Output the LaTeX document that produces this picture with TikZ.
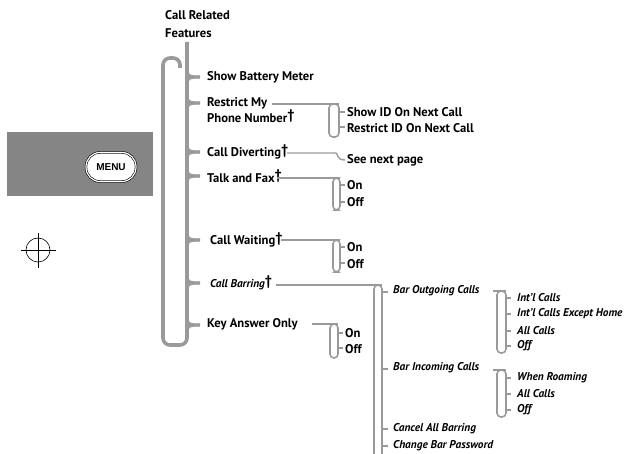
\documentclass[tikz,border=0pt]{standalone}
\usepackage{fontspec}
\setmainfont{PT Sans}
\newfontfamily\menufont{Liberation Sans}
\newcommand{\dg}{\raisebox{0.4ex}{\fontsize{14}{14}\selectfont\bfseries\upshape †}}
\begin{document}
\begin{tikzpicture}[x=1pt,y=-1pt,
  item/.style={anchor=west,inner sep=0pt,font=\fontsize{12.6}{18}\selectfont\bfseries,text=black},
  iitem/.style={anchor=west,inner sep=0pt,font=\fontsize{11.3}{16}\selectfont\bfseries\itshape,text=black},
  mainline/.style={draw=brk,line width=3.6pt,rounded corners=7pt},
  subline/.style={draw=brk,line width=1.6pt,rounded corners=4pt},
  hline/.style={draw=brk,line width=1.4pt,rounded corners=4pt},
  tick/.style={draw=brk,line width=1.1pt},
  tip/.style={draw=brk,line width=3pt}]
\definecolor{brk}{HTML}{9A9A9A}
\definecolor{panel}{HTML}{858585}
\useasboundingbox (0,0) rectangle (627,454);

% left panel
\fill[panel] (7,132) rectangle (153,196);
\node[draw=black,fill=white,line width=0.6pt,double=white,double distance=1.2pt,rounded corners=14pt,minimum width=50pt,minimum height=29pt,inner sep=0pt,font=\menufont\fontsize{10}{10}\selectfont\bfseries] (menu) at (111,167) {MENU};
\draw[line width=0.6pt] (38,250) circle[radius=12];
\draw[line width=0.7pt] (21,250) -- (56,250) (38,233) -- (38,268);

% title
\node[item,align=left] (title) at (165,24) {Call Related\\Features};

% main bracket
\draw[mainline] (180,68) -- (180,58) -- (163,58) -- (163,345) -- (187,345) -- (187,42);
\foreach \y in {77,103,152,176,240,283,325}{
  \draw[tip] (187,\y-6) .. controls (187,\y-1) and (190,\y) .. (200,\y);
  \draw[tip] (187,\y+6) .. controls (187,\y+1) and (190,\y) .. (200,\y);
}

% main items
\node[item] (sbm) at (207,77) {Show Battery Meter};
\node[item,align=left,font=\fontsize{12.6}{16}\selectfont\bfseries] (rmp) at (207,110) {Restrict My\\Phone Number\dg};
\node[item] (cd) at (207,152) {Call Diverting\dg};
\node[item] (tf) at (207,176) {Talk and Fax\dg};
\node[item] (cw) at (210,240) {Call Waiting\dg};
\node[iitem] (cb) at (210,283) {Call Barring\dg};
\node[item] (kao) at (207,324) {Key Answer Only};

% restrict my phone number
\draw[hline] (272,104) -- (339,104);
\draw[subline] (329,104) rectangle (339,137);
\foreach \y in {112,127}{\draw[tick] (339,\y) -- (345,\y);}
\node[item] (sid) at (347,112) {Show ID On Next Call};
\node[item] (rid) at (347,128) {Restrict ID On Next Call};

% call diverting
\draw[hline] (287,153) -- (332,153) .. controls (338,153) and (336,160) .. (345,160);
\node[item] (snp) at (347,160) {See next page};

% talk and fax
\draw[hline] (277,178) -- (340,178);
\draw[subline] (333,178) rectangle (340,210);
\foreach \y in {185,202}{\draw[tick] (340,\y) -- (345,\y);}
\node[item] (tfon) at (347,185) {On};
\node[item] (tfoff) at (347,202) {Off};

% call waiting
\draw[hline] (281,240) -- (340,240);
\draw[subline] (333,240) rectangle (340,272);
\foreach \y in {247,263}{\draw[tick] (340,\y) -- (345,\y);}
\node[item] (cwon) at (347,247) {On};
\node[item] (cwoff) at (347,264) {Off};

% key answer only
\draw[hline] (312,324) -- (338,324);
\draw[subline] (330,324) rectangle (338,358);
\foreach \y in {333,348}{\draw[tick] (338,\y) -- (343,\y);}
\node[item] (kon) at (345,333) {On};
\node[item] (koff) at (345,349) {Off};

% call barring
\draw[hline] (276,285) -- (382,285);
\draw[subline] (382,454) -- (382,285) -- (374,285) -- (374,454);
\foreach \y in {292,369,429,446}{\draw[tick] (382,\y) -- (388,\y);}
\node[iitem] (bog) at (393,291) {Bar Outgoing Calls};
\node[iitem] (bic) at (393,368) {Bar Incoming Calls};
\node[iitem] (cab) at (393,429) {Cancel All Barring};
\node[iitem] (cbp) at (393,446) {Change Bar Password};

% outgoing
\draw[hline] (493,291) -- (506,291);
\draw[subline] (497,291) rectangle (506,353);
\foreach \y in {298,314,331,346}{\draw[tick] (506,\y) -- (511,\y);}
\node[iitem] (o1) at (517,298) {Int'l Calls};
\node[iitem] (o2) at (517,314) {Int'l Calls Except Home};
\node[iitem] (o3) at (517,331) {All Calls};
\node[iitem] (o4) at (517,346) {Off};

% incoming
\draw[hline] (493,370) -- (506,370);
\draw[subline] (497,370) rectangle (506,417);
\foreach \y in {378,394,410}{\draw[tick] (506,\y) -- (511,\y);}
\node[iitem] (i1) at (517,378) {When Roaming};
\node[iitem] (i2) at (517,394) {All Calls};
\node[iitem] (i3) at (517,410) {Off};
\end{tikzpicture}
\end{document}
